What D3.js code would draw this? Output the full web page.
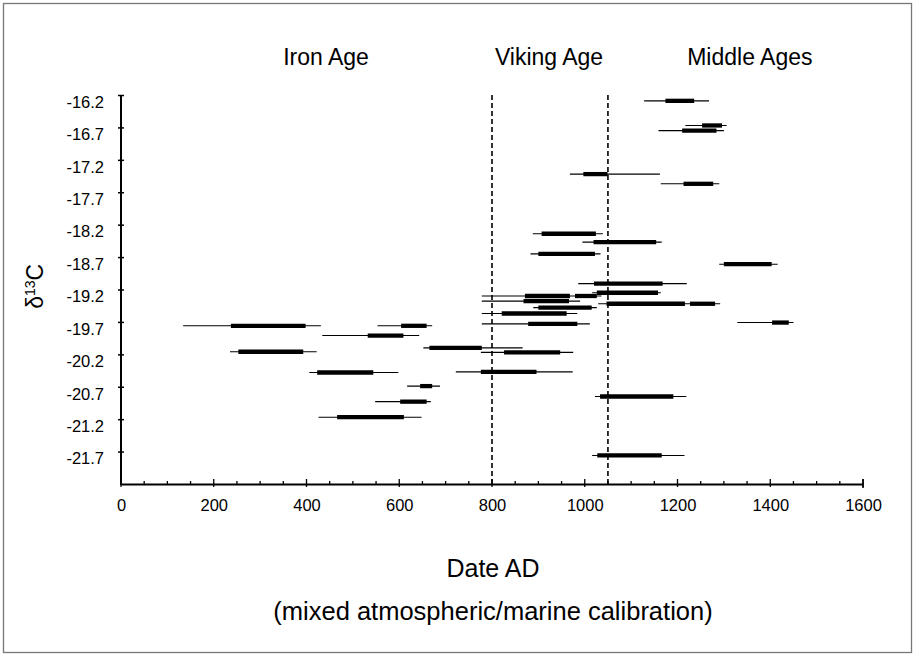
<!DOCTYPE html>
<html>
<head>
<meta charset="utf-8">
<script src="https://cdn.jsdelivr.net/npm/d3@7"></script>
<style>
  html, body { margin: 0; padding: 0; background: #fff; }
  svg { display: block; }
  text { font-family: "Liberation Sans", Arial, Helvetica, sans-serif; fill: #000; }
</style>
</head>
<body>
<svg id="chart" width="916" height="657"></svg>
<script>
// ---- data ----
const periods = ["Iron Age", "Viking Age", "Middle Ages"];
const periodCentres = [442, 923, 1356];       // AD year under which each period name sits
const periodBounds = [800, 1050];             // dashed boundaries (AD)
const xTicks = [0, 200, 400, 600, 800, 1000, 1200, 1400, 1600];
const yTicks = [-16.2, -16.7, -17.2, -17.7, -18.2, -18.7, -19.2, -19.7, -20.2, -20.7, -21.2, -21.7];

// δ13C value of each sample
const d13C = [-16.29, -16.67, -16.75, -17.42, -17.57, -18.34, -18.47, -18.65, -18.81, -19.11,
              -19.25, -19.30, -19.38, -19.42, -19.48, -19.57, -19.71, -19.73, -19.76, -19.76,
              -19.91, -20.10, -20.16, -20.17, -20.47, -20.48, -20.69, -20.85, -20.93, -21.17, -21.76];
// 95% calibrated range, start and end (AD)
const range95From = [1128, 1217, 1159, 968, 1164, 888, 995, 883, 1290, 986,
                     1016, 778, 778, 1029, 889, 778, 1329, 778, 134, 553,
                     434, 652, 235, 776, 722, 406, 617, 1022, 548, 426, 1016];
const range95To   = [1268, 1306, 1300, 1162, 1290, 1039, 1166, 1034, 1416, 1220,
                     1164, 1036, 990, 1292, 1026, 984, 1450, 1011, 431, 671,
                     643, 866, 422, 975, 974, 598, 688, 1219, 668, 648, 1215];
// 68% calibrated range(s) (AD); some samples have two intervals
const range68 = [
  [[1174, 1236]], [[1253, 1296]], [[1210, 1284]], [[997, 1049]], [[1213, 1277]],
  [[907, 1024]], [[1019, 1154]], [[900, 1022]], [[1300, 1403]], [[1020, 1168]],
  [[1026, 1158]], [[871, 968], [979, 1026]], [[868, 966]], [[1047, 1216], [1227, 1281]], [[900, 1015]],
  [[821, 961]], [[1404, 1440]], [[878, 984]], [[237, 398]], [[604, 659]],
  [[532, 609]], [[665, 778]], [[253, 393]], [[826, 947]], [[776, 896]],
  [[423, 544]], [[645, 671]], [[1033, 1191]], [[602, 659]], [[466, 610]], [[1027, 1166]]
];

const samples = d13C.map((v, i) => ({ v, lo: range95From[i], hi: range95To[i], r68: range68[i] }));

// ---- layout ----
const svg = d3.select("#chart");
const x = d3.scaleLinear().domain([0, 1600]).range([121, 863]);
const y = d3.scaleLinear().domain([-22.2, -16.2]).range([484, 95]);
const FONT = '"Liberation Sans", Arial, Helvetica, sans-serif';
const fmtY = d3.formatLocale({ decimal: ".", thousands: ",", grouping: [3], currency: ["", ""], minus: "-" }).format(".1f");

// frame
svg.append("rect").attr("x", 3.5).attr("y", 3.5).attr("width", 908).attr("height", 649)
  .attr("fill", "none").attr("stroke", "#777").attr("stroke-width", 1.3);

// period names
svg.append("g").selectAll("text").data(periods).join("text")
  .attr("x", (d, i) => x(periodCentres[i]))
  .attr("y", 65)
  .attr("text-anchor", "middle")
  .attr("font-size", 23)
  .text(d => d);

// dashed period boundaries
svg.append("g").selectAll("line").data(periodBounds).join("line")
  .attr("x1", d => x(d)).attr("x2", d => x(d))
  .attr("y1", y(-16.2)).attr("y2", y(-22.2))
  .attr("stroke", "#000").attr("stroke-width", 1.6)
  .attr("stroke-dasharray", "5,3");

// samples: thin 95% line + thick 68% bar(s)
const g = svg.append("g");
g.selectAll("line.r95").data(samples).join("line")
  .attr("class", "r95")
  .attr("x1", d => x(d.lo)).attr("x2", d => x(d.hi))
  .attr("y1", d => y(d.v)).attr("y2", d => y(d.v))
  .attr("stroke", "#000").attr("stroke-width", 1.1);
const bars = samples.flatMap(d => d.r68.map(r => ({ v: d.v, a: r[0], b: r[1] })));
g.selectAll("line.r68").data(bars).join("line")
  .attr("class", "r68")
  .attr("x1", d => x(d.a)).attr("x2", d => x(d.b))
  .attr("y1", d => y(d.v)).attr("y2", d => y(d.v))
  .attr("stroke", "#000").attr("stroke-width", 4.3);

// y axis
const yAxisL = d3.axisLeft(y).tickValues(yTicks).tickSize(3).tickPadding(14).tickFormat(fmtY);
const ya = svg.append("g").attr("transform", `translate(${x(0)},0)`).call(yAxisL);
ya.select(".domain").remove();
ya.selectAll(".tick line").attr("stroke-width", 1.5);
ya.selectAll(".tick text").attr("font-size", 16.5).attr("dy", "0.32em")
  .attr("transform", "translate(0,7)")
  .style("font-family", FONT);
const yAxisR = d3.axisRight(y).tickValues(yTicks).tickSize(3).tickFormat("");
const yr = svg.append("g").attr("transform", `translate(${x(0)},0)`).call(yAxisR);
yr.select(".domain").remove();
yr.selectAll(".tick line").attr("stroke-width", 1.5);
svg.append("line").attr("x1", x(0)).attr("x2", x(0)).attr("y1", y(-16.2)).attr("y2", y(-22.2) + 1)
  .attr("stroke", "#000").attr("stroke-width", 2);

// x axis
const minorX = d3.range(0, 1601, 50);
const xa = svg.append("g").attr("transform", `translate(0,${y(-22.2)})`);
xa.selectAll("line.minor").data(minorX).join("line")
  .attr("class", "minor")
  .attr("x1", d => x(d)).attr("x2", d => x(d))
  .attr("y1", d => (d % 200 === 0 ? -5 : -3)).attr("y2", d => (d % 200 === 0 ? 3 : 0))
  .attr("stroke", "#000").attr("stroke-width", 1.3);
const xAxis = d3.axisBottom(x).tickValues(xTicks).tickSize(0).tickPadding(15).tickFormat(d3.format("d"));
const xg = svg.append("g").attr("transform", `translate(0,${y(-22.2)})`).call(xAxis);
xg.select(".domain").attr("stroke-width", 2);
xg.selectAll(".tick text").attr("font-size", 16.5).style("font-family", FONT);
svg.append("line").attr("x1", x(1600)).attr("x2", x(1600))
  .attr("y1", y(-22.2) - 5).attr("y2", y(-22.2) + 4).attr("stroke", "#000").attr("stroke-width", 1.5);

// axis titles
const yt = svg.append("text")
  .attr("transform", `translate(43,${y(-19.15)}) rotate(-90)`)
  .attr("text-anchor", "middle").attr("font-size", 23);
yt.append("tspan").text("δ");
yt.append("tspan").attr("font-size", 14).attr("dy", "-0.6em").text("13");
yt.append("tspan").attr("dy", "0.38em").text("C");

svg.append("text").attr("x", 493).attr("y", 577).attr("text-anchor", "middle")
  .attr("font-size", 25).text("Date AD");
svg.append("text").attr("x", 493).attr("y", 620).attr("text-anchor", "middle")
  .attr("font-size", 25.5).text("(mixed atmospheric/marine calibration)");
</script>
</body>
</html>
